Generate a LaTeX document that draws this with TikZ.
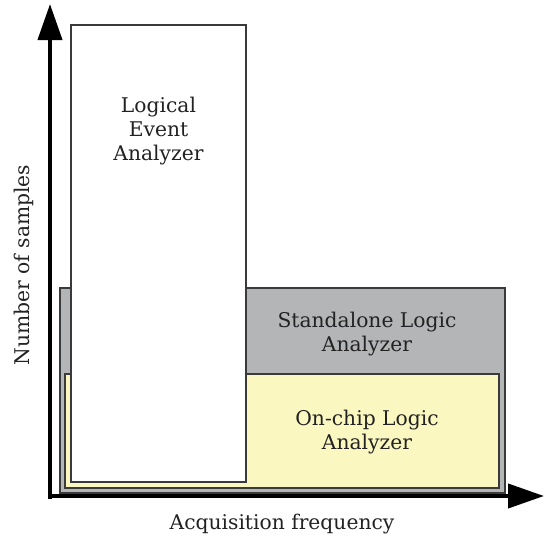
\documentclass[tikz,border=0pt]{standalone}
\usepackage{fontspec}
\setmainfont{DejaVu Serif}
\usetikzlibrary{arrows.meta}
\definecolor{txt}{HTML}{222222}
\definecolor{edge}{HTML}{3A3A3A}
\definecolor{greyfill}{HTML}{B4B5B6}
\definecolor{yel}{HTML}{FAF7C1}
\tikzset{
  box/.style={draw=edge, line width=0.8pt, inner sep=0pt, outer sep=0pt},
  lbl/.style={text=txt, font=\fontsize{15.2}{18}\selectfont, align=center, inner sep=0pt},
  axis/.style={line width=3pt, -{Triangle[length=27pt,width=18pt]}},
}
\begin{document}
\begin{tikzpicture}[x={(0.75pt,0)}, y={(0,-0.75pt)}]
\useasboundingbox (0,0) rectangle (545,539);
% boxes
\filldraw[box, fill=greyfill] (60,288) rectangle (505,493);
\filldraw[box, fill=yel] (65,374) rectangle (499,488);
\filldraw[box, fill=white] (71,25) rectangle (246,482);
% labels
\node[lbl] (lea) at (158.5,131) {Logical\\Event\\Analyzer};
\node[lbl] (sla) at (367,334) {Standalone Logic\\Analyzer};
\node[lbl] (ola) at (367,432) {On-chip Logic\\Analyzer};
% axes
\coordinate (o) at (50,497);
\coordinate (ytip) at (50,4);
\coordinate (xtip) at (544,496);
\draw[axis] (50,499) -- (ytip);
\draw[axis] (48.5,496) -- (xtip);
\node[lbl] (xl) at (282,524) {Acquisition frequency};
\node[lbl, rotate=90] (yl) at (24,265) {Number of samples};
\end{tikzpicture}
\end{document}
